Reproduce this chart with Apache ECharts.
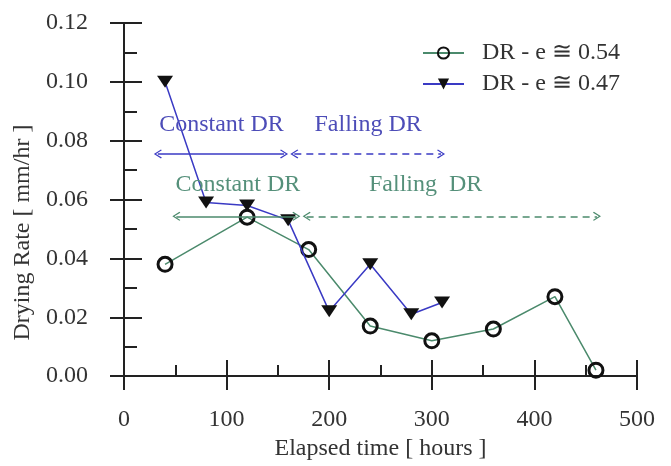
<!DOCTYPE html>
<html>
<head>
<meta charset="utf-8">
<script src="https://cdn.jsdelivr.net/npm/echarts@6/dist/echarts.min.js"></script>
<style>html,body{margin:0;padding:0;background:#fff;}#c{width:671px;height:466px;}</style>
</head>
<body>
<div id="c"></div>
<script>
// Series data
const timeE54 = [40, 120, 180, 240, 300, 360, 420, 460];
const drE54 = [0.038, 0.054, 0.043, 0.017, 0.012, 0.016, 0.027, 0.002];
const timeE47 = [40, 80, 120, 160, 200, 240, 280, 310];
const drE47 = [0.100, 0.059, 0.058, 0.053, 0.022, 0.038, 0.021, 0.025];
const seriesNames = ['DR - e \u2245 0.54', 'DR - e \u2245 0.47'];

// Annotations (phase labels and arrows), in data units
const phaseLabels = ['Constant DR', 'Falling DR', 'Constant DR', 'Falling  DR'];
const phaseLabelX = [95, 238, 111, 294];
const phaseLabelY = [0.0856, 0.0856, 0.065, 0.065];
const blueArrowY = 0.0755;
const blueSolidX = [33, 156];
const blueDashX = [166, 309];
const greenArrowY = 0.0543;
const greenSolidX = [51, 168];
const greenDashX = [178, 461];

const FONT = 'Liberation Serif';
const FS = 24;
const TXT = '#333';
const BLUE = '#3a3ac4';
const GREEN = '#4b8a6c';
const BLUE_T = '#4d4db8';
const GREEN_T = '#55907a';
const chevron = 'path://M5,0 L10,8 L9,9 L5,2.4 L1,9 L0,8 Z';

function arrowLines(y, solid, dash, color) {
  return [
    [{coord: [solid[0], y], lineStyle: {type: 'solid', color: color, width: 1.5}}, {coord: [solid[1], y]}],
    [{coord: [dash[0], y], lineStyle: {type: [7, 5], color: color, width: 1.5}}, {coord: [dash[1], y]}]
  ];
}
function labelPoints(idx, color) {
  return idx.map(i => ({
    name: phaseLabels[i], coord: [phaseLabelX[i], phaseLabelY[i]],
    label: {show: true, formatter: phaseLabels[i], color: color, fontFamily: FONT, fontSize: FS, position: 'inside'}
  }));
}

const baseX = {type: 'value', min: 0, max: 500, interval: 100, splitLine: {show: false},
  axisLine: {onZero: false, lineStyle: {color: '#222', width: 2}}, position: 'bottom'};
const baseY = {type: 'value', min: 0, max: 0.12, interval: 0.02, splitLine: {show: false},
  axisLine: {onZero: false, lineStyle: {color: '#222', width: 2}}, position: 'left'};

const chart = echarts.init(document.getElementById('c'), null, {renderer: 'canvas'});
chart.setOption({
  animation: false,
  backgroundColor: '#fff',
  grid: {left: 124, right: 34, top: 23, bottom: 87, containLabel: false},
  xAxis: [
    Object.assign({}, baseX, {
      name: 'Elapsed time [ hours ]', nameLocation: 'middle', nameGap: 58,
      nameTextStyle: {fontFamily: FONT, fontSize: FS, color: TXT},
      axisTick: {show: true, inside: true, length: 16, lineStyle: {color: '#222', width: 2}},
      minorTick: {show: true, splitNumber: 2, length: 11, lineStyle: {color: '#222', width: 2}},
      axisLabel: {margin: 32, fontFamily: FONT, fontSize: FS, color: TXT}
    }),
    Object.assign({}, baseX, {
      axisTick: {show: true, inside: false, length: 14, lineStyle: {color: '#222', width: 2}},
      axisLabel: {show: false}
    })
  ],
  yAxis: [
    Object.assign({}, baseY, {
      name: 'Drying Rate [ mm/hr ]', nameLocation: 'middle', nameGap: 84, nameRotate: 90,
      nameTextStyle: {fontFamily: FONT, fontSize: FS, color: TXT, padding: [0, 66, 0, 0]},
      axisTick: {show: true, inside: true, length: 18, lineStyle: {color: '#222', width: 2}},
      minorTick: {show: true, splitNumber: 2, length: 13, lineStyle: {color: '#222', width: 2}},
      axisLabel: {margin: 36, fontFamily: FONT, fontSize: FS, color: TXT, formatter: v => v.toFixed(2)}
    }),
    Object.assign({}, baseY, {
      axisTick: {show: true, inside: false, length: 14, lineStyle: {color: '#222', width: 2}},
      axisLabel: {show: false}
    })
  ],
  legend: {
    data: seriesNames, orient: 'vertical', left: 417, top: 36,
    itemWidth: 41, itemHeight: 14, itemGap: 7,
    textStyle: {fontFamily: FONT, fontSize: FS, color: TXT, padding: [0, 0, 0, 13]}
  },
  series: [
    {
      name: seriesNames[0], type: 'line', xAxisIndex: 0, yAxisIndex: 0,
      data: timeE54.map((t, i) => [t, drE54[i]]),
      symbol: 'circle', symbolSize: 14,
      itemStyle: {color: 'rgba(255,255,255,0)', borderColor: '#111', borderWidth: 3},
      lineStyle: {color: GREEN, width: 1.5},
      z: 3,
      markLine: {silent: true, symbol: [chevron, chevron], symbolSize: [9, 8],
        label: {show: false}, data: arrowLines(greenArrowY, greenSolidX, greenDashX, GREEN)},
      markPoint: {silent: true, symbol: 'circle', symbolSize: 0, data: labelPoints([2, 3], GREEN_T)}
    },
    {
      name: seriesNames[1], type: 'line', xAxisIndex: 0, yAxisIndex: 0,
      data: timeE47.map((t, i) => [t, drE47[i]]),
      symbol: 'triangle', symbolRotate: 180, symbolSize: [16, 12],
      itemStyle: {color: '#111'},
      lineStyle: {color: BLUE, width: 1.5},
      z: 4,
      markLine: {silent: true, symbol: [chevron, chevron], symbolSize: [9, 8],
        label: {show: false}, data: arrowLines(blueArrowY, blueSolidX, blueDashX, BLUE)},
      markPoint: {silent: true, symbol: 'circle', symbolSize: 0, data: labelPoints([0, 1], BLUE_T)}
    }
  ]
});
</script>
</body>
</html>
